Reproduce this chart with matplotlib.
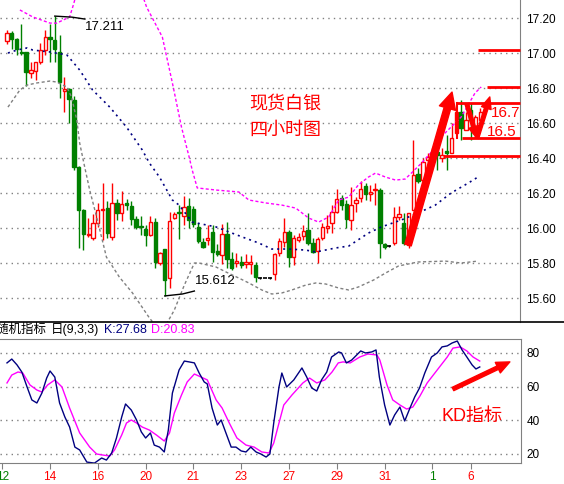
import matplotlib
matplotlib.use('Agg')
import matplotlib.pyplot as plt
from matplotlib.lines import Line2D

plt.rcParams['font.family'] = ['Liberation Sans', 'Noto Sans CJK SC', 'DejaVu Sans']

# 4-hour silver candles (open, high, low, close), bar index 0..99
opens = [17.069, 17.114, 17.080, 17.006, 17.006, 16.886, 16.897, 16.949, 17.017, 17.091,
         17.074, 17.006, 16.783, 16.794, 16.731, 16.349, 16.103, 15.960, 15.943, 16.029,
         16.103, 16.114, 15.949, 16.143, 16.086, 16.143, 16.126, 16.051, 16.011, 15.994,
         15.960, 16.034, 15.800, 15.880, 15.714, 16.057, 16.091, 16.069, 16.126, 16.109,
         16.006, 15.920, 15.931, 15.977, 15.869, 15.846, 15.966, 15.823, 15.800, 15.806,
         15.794, 15.794, 15.789, 15.714, 15.714, 15.714, 15.737, 15.857, 15.920, 15.977,
         15.834, 15.931, 15.954, 15.989, 15.914, 15.869, 15.943, 16.000, 16.029, 16.091,
         16.171, 16.137, 16.046, 16.143, 16.171, 16.240, 16.194, 16.217, 16.217, 15.909,
         15.897, 15.914, 16.063, 16.029, 15.903, 16.103, 16.309, 16.274, 16.389, 16.406,
         16.434, 16.400, 16.440, 16.429, 16.543, 16.663, 16.560, 16.674, 16.560, 16.617]
highs = [17.131, 17.126, 17.086, 17.166, 17.006, 16.949, 16.949, 17.057, 17.131, 17.166,
         17.211, 17.103, 16.863, 16.800, 16.754, 16.354, 16.109, 16.057, 16.080, 16.143,
         16.257, 16.154, 16.257, 16.166, 16.211, 16.166, 16.154, 16.069, 16.069, 16.017,
         16.069, 16.057, 15.863, 15.880, 16.091, 16.091, 16.131, 16.183, 16.171, 16.126,
         16.029, 15.943, 16.017, 16.017, 15.909, 16.023, 16.034, 15.863, 15.857, 15.840,
         15.851, 15.846, 15.806, 15.720, 15.714, 15.720, 15.857, 15.943, 16.057, 15.989,
         15.960, 15.971, 16.017, 16.086, 15.943, 15.949, 16.029, 16.074, 16.131, 16.223,
         16.189, 16.160, 16.234, 16.177, 16.269, 16.257, 16.246, 16.257, 16.229, 15.914,
         15.903, 16.120, 16.126, 16.086, 16.086, 16.503, 16.343, 16.400, 16.429, 16.457,
         16.486, 16.457, 16.531, 16.600, 16.691, 16.731, 16.663, 16.714, 16.646, 16.686]
lows = [17.051, 17.023, 16.989, 16.989, 16.811, 16.857, 16.846, 16.937, 16.989, 16.949,
        16.949, 16.743, 16.663, 16.600, 16.331, 15.886, 15.874, 15.949, 15.931, 16.006,
        15.931, 15.943, 15.931, 16.046, 16.040, 16.103, 16.017, 15.994, 15.960, 15.897,
        15.954, 15.771, 15.789, 15.612, 15.657, 16.051, 15.937, 16.017, 16.000, 16.006,
        15.914, 15.886, 15.903, 15.806, 15.840, 15.794, 15.771, 15.760, 15.777, 15.771,
        15.771, 15.737, 15.691, 15.709, 15.714, 15.709, 15.703, 15.840, 15.891, 15.777,
        15.789, 15.920, 15.931, 15.903, 15.857, 15.800, 15.931, 15.971, 15.971, 16.086,
        16.103, 16.000, 15.989, 16.091, 16.149, 16.160, 16.154, 16.131, 15.829, 15.880,
        15.891, 15.903, 16.046, 15.903, 15.886, 16.103, 16.257, 16.257, 16.331, 16.389,
        16.331, 16.377, 16.331, 16.429, 16.543, 16.503, 16.560, 16.503, 16.549, 16.606]
closes = [17.114, 17.080, 17.023, 17.000, 16.891, 16.903, 16.949, 17.017, 17.091, 17.080,
          17.023, 16.834, 16.794, 16.737, 16.349, 16.103, 15.966, 15.966, 16.029, 16.103,
          16.109, 15.971, 16.143, 16.086, 16.137, 16.131, 16.051, 16.006, 16.006, 15.960,
          16.034, 15.806, 15.857, 15.703, 16.040, 16.080, 16.086, 16.120, 16.046, 16.023,
          15.926, 15.891, 15.943, 15.863, 15.851, 15.966, 15.823, 15.771, 15.811, 15.789,
          15.806, 15.806, 15.720, 15.714, 15.714, 15.714, 15.851, 15.926, 15.977, 15.834,
          15.943, 15.949, 15.983, 15.914, 15.863, 15.937, 16.006, 16.011, 16.091, 16.166,
          16.131, 16.051, 16.131, 16.160, 16.223, 16.194, 16.206, 16.223, 15.914, 15.891,
          15.897, 16.063, 16.080, 15.914, 16.086, 16.303, 16.269, 16.377, 16.406, 16.423,
          16.417, 16.417, 16.429, 16.514, 16.663, 16.571, 16.617, 16.617, 16.634, 16.663]

# Bollinger bands (bar index, price)
boll_up_x = [2.7, 5.4, 9.0, 10.4, 13.1, 13.75, 15.2, 19.4, 23.5, 27.7, 29.2, 32.5, 34.6, 36.5,
             38.1, 38.75, 39.8, 43.75, 48.5, 50.6, 54.2, 57.5, 60.4, 63.1, 65.2, 67.3, 69.4,
             71.5, 73.5, 75.6, 77.1, 79.2, 81.3, 83.3, 84.6, 86.7, 88.8, 90.8, 92.9, 95.0,
             97.9, 99.2]
boll_up = [17.246, 17.206, 17.171, 17.171, 17.206, 17.263, 17.40, 17.50, 17.48, 17.38, 17.263,
           17.091, 16.829, 16.577, 16.406, 16.331, 16.229, 16.217, 16.206, 16.160, 16.143,
           16.131, 16.114, 16.057, 16.034, 16.063, 16.160, 16.177, 16.246, 16.291, 16.314,
           16.291, 16.274, 16.280, 16.314, 16.371, 16.434, 16.520, 16.577, 16.634, 16.771,
           16.806]
boll_mid_x = [0.2, 2.1, 4.2, 5.4, 9.0, 12.5, 13.1, 15.2, 17.9, 21.5, 25.0, 28.3, 29.8, 31.9,
              34.6, 36.0, 38.75, 43.75, 46.5, 49.2, 52.7, 55.4, 59.0, 62.5, 64.6, 68.75,
              71.5, 75.6, 78.3, 82.5, 86.0, 89.6, 92.9, 96.5, 98.5]
boll_mid = [17.000, 17.017, 17.029, 17.017, 17.006, 16.989, 16.971, 16.903, 16.789, 16.691,
            16.577, 16.446, 16.371, 16.291, 16.160, 16.131, 16.034, 16.006, 15.977, 15.949,
            15.914, 15.880, 15.880, 15.874, 15.863, 15.886, 15.897, 15.971, 16.006, 16.046,
            16.086, 16.131, 16.200, 16.257, 16.291]
boll_low_x = [0.2, 2.7, 4.2, 6.25, 9.0, 10.4, 12.5, 13.5, 14.6, 15.2, 16.25, 17.3, 18.75, 20.8,
              23.5, 26.25, 29.8, 32.3, 35.0, 37.1, 39.2, 40.2, 43.75, 45.8, 48.5, 50.6, 53.3,
              55.4, 57.5, 59.6, 62.5, 64.6, 66.7, 69.4, 71.5, 73.5, 76.7, 79.2, 81.9, 86.0,
              91.7, 95.0, 98.5]
boll_low = [16.691, 16.789, 16.817, 16.829, 16.840, 16.834, 16.806, 16.749, 16.617, 16.486,
            16.349, 16.217, 16.063, 15.834, 15.720, 15.629, 15.486, 15.400, 15.531, 15.674,
            15.800, 15.800, 15.777, 15.749, 15.714, 15.686, 15.646, 15.623, 15.629, 15.646,
            15.674, 15.686, 15.680, 15.657, 15.646, 15.663, 15.703, 15.743, 15.783, 15.806,
            15.811, 15.800, 15.811]

# KD(9,3,3)
k_x = [0.0, 1.0, 2.1, 3.1, 4.2, 5.2, 6.25, 7.3, 8.3, 9.0, 10.0, 11.0, 12.1, 13.1, 14.2, 15.2,
       16.7, 18.3, 19.8, 20.8, 21.9, 22.9, 24.0, 24.8, 26.0, 27.1, 28.1, 29.0, 30.0, 30.8,
       31.9, 32.9, 33.75, 34.6, 36.0, 37.1, 38.1, 39.2, 40.2, 41.25, 41.9, 42.9, 44.0, 44.8,
       45.8, 46.9, 47.9, 49.0, 50.0, 51.0, 52.1, 53.1, 54.2, 55.0, 55.8, 56.9, 57.5, 58.5,
       60.0, 61.7, 62.7, 63.75, 64.8, 65.8, 66.9, 67.9, 69.4, 70.0, 71.0, 72.1, 74.0, 75.0,
       76.3, 77.2, 77.9, 79.0, 80.1, 81.1, 82.2, 83.2, 84.3, 85.3, 86.3, 87.4, 88.8, 90.0,
       91.0, 92.1, 93.1, 94.2, 95.2, 96.2, 97.3, 98.1, 98.9]
k_vals = [74.1, 76.4, 72.9, 68.7, 59.8, 52.1, 50.3, 56.2, 65.1, 69.3, 65.7, 50.3, 42.0, 36.0,
          24.1, 22.4, 15.2, 14.6, 17.6, 16.4, 20.6, 29.5, 42.0, 49.7, 46.1, 40.2, 33.1, 29.5,
          32.5, 25.3, 24.1, 21.2, 34.2, 56.2, 69.9, 75.2, 74.7, 74.1, 68.1, 62.8, 61.6, 47.3,
          37.2, 40.2, 32.5, 24.1, 24.1, 21.8, 21.2, 24.1, 21.2, 20.0, 18.2, 20.0, 38.4, 59.8,
          68.1, 59.8, 64.0, 71.1, 65.7, 59.2, 57.4, 64.0, 68.7, 77.6, 80.6, 80.0, 74.1, 75.8,
          81.2, 80.0, 80.6, 81.8, 65.7, 49.1, 37.2, 43.2, 47.9, 39.6, 47.3, 53.9, 59.2, 68.1,
          77.6, 80.0, 83.6, 84.2, 85.9, 87.1, 81.8, 77.6, 72.9, 70.5, 71.7]
d_x = [0.0, 1.0, 2.3, 3.3, 4.8, 6.25, 7.3, 8.5, 10.0, 11.5, 13.1, 15.2, 17.3, 18.75, 20.0,
       21.5, 22.5, 24.0, 25.0, 26.0, 27.1, 28.3, 29.8, 31.25, 32.9, 34.0, 35.0, 36.5, 37.7,
       39.2, 40.6, 41.9, 43.75, 45.0, 46.5, 48.1, 50.0, 51.7, 53.3, 54.8, 55.8, 56.9, 57.9,
       59.6, 61.9, 63.3, 64.8, 66.5, 68.0, 69.3, 70.3, 71.8, 73.8, 75.5, 77.4, 78.0, 79.5,
       80.7, 82.2, 83.6, 84.9, 86.4, 87.9, 90.0, 92.1, 93.3, 94.8, 96.2, 97.5, 98.9]
d_vals = [62.2, 66.9, 68.7, 68.1, 61.0, 58.0, 56.8, 61.0, 64.0, 59.8, 47.3, 32.5, 24.1, 20.0,
          19.4, 18.8, 22.4, 31.3, 38.4, 40.2, 38.4, 36.0, 34.2, 31.3, 27.7, 32.5, 44.3, 55.0,
          62.8, 67.5, 65.7, 64.0, 52.1, 47.3, 38.4, 29.5, 25.3, 24.1, 21.2, 20.6, 26.5, 38.4,
          49.1, 55.0, 62.2, 65.1, 62.2, 64.0, 68.7, 74.1, 74.7, 74.1, 77.6, 79.4, 78.8, 75.8,
          61.0, 52.1, 49.1, 46.7, 47.9, 54.5, 62.2, 69.9, 77.6, 82.9, 83.6, 81.2, 77.6, 75.2]

date_pos = [-1, 9, 19, 29, 39, 49, 59, 69, 79, 89, 97]
date_labels = ['12', '14', '16', '20', '21', '23', '27', '29', '31', '1', '6']
date_colors = ['green', 'red', 'red', 'red', 'red', 'red', 'red', 'red', 'red', 'green', 'red']

RED = '#ff0000'
GREEN = '#008000'
NAVY = '#000080'
MAG = '#ff00ff'
GRAY = '#808080'

W, H = 564, 484
fig = plt.figure(figsize=(W / 100, H / 100), dpi=100)
fig.patch.set_facecolor('white')

ax = fig.add_axes([0, 1 - 322 / H, 520 / W, 322 / H])
ax2 = fig.add_axes([0, 1 - 463 / H, 521 / W, (463 - 339) / H])

# ---- price panel ----
for i in range(len(opens)):
    o, hi, lo, c = opens[i], highs[i], lows[i], closes[i]
    if c > o:
        col = RED
    elif c < o:
        col = GREEN
    else:
        col = 'black'
    ax.vlines(i, lo, hi, color=col, lw=1, zorder=2)
    if c == o:
        ax.hlines(c, i - 0.4, i + 0.4, color=col, lw=1.2, zorder=3)
    else:
        ax.bar(i, abs(c - o), bottom=min(o, c), width=0.7,
               facecolor='white' if c > o else GREEN, edgecolor=col, lw=1, zorder=3)

ax.plot(boll_up_x, boll_up, color=MAG, lw=1, ls=(0, (2.2, 1.6)), zorder=4)
ax.plot(boll_mid_x, boll_mid, color=NAVY, lw=1.2, ls=(0, (1.2, 2.4)), zorder=4)
ax.plot(boll_low_x, boll_low, color=GRAY, lw=1, ls=(0, (2.2, 1.8)), zorder=4)

ax.set_xlim(-1.464, 107.32)
ax.set_ylim(15.463, 17.303)
ax.set_yticks([15.6, 15.8, 16.0, 16.2, 16.4, 16.6, 16.8, 17.0, 17.2])
ax.set_yticklabels(['%.2f' % v for v in ax.get_yticks()])
ax.yaxis.tick_right()
ax.tick_params(axis='y', length=0, pad=4, labelsize=8.5)
ax.set_xticks([])
ax.grid(axis='y', color=GRAY, ls=(0, (1, 3)), lw=1)
for s in ['left', 'top', 'bottom']:
    ax.spines[s].set_visible(False)
ax.spines['right'].set_color(GRAY)

# high / low markers
ax.plot([10, 13.6, 16.3], [17.211, 17.205, 17.194], color='black', lw=1, zorder=5)
ax.text(16.4, 17.149, '17.211', fontsize=9.5, va='center', ha='left')
ax.plot([33, 36.7, 39.2], [15.612, 15.623, 15.640], color='black', lw=1, zorder=5)
ax.text(39.3, 15.697, '15.612', fontsize=9.5, va='center', ha='left')

# hand drawn levels
lvl_kw = dict(color=RED, lw=2, zorder=6, clip_on=False, solid_capstyle='butt')
ax.plot([98.5, 107.3], [17.017, 17.017], **lvl_kw)
ax.plot([100.4, 107.3], [16.806, 16.806], **lvl_kw)
ax.plot([94.1, 107.3], [16.714, 16.714], **lvl_kw)
ax.plot([95.2, 107.3], [16.514, 16.514], **lvl_kw)
ax.plot([91.2, 107.3], [16.411, 16.411], **lvl_kw)
ax.plot([94.1, 94.1], [16.514, 16.714], color=RED, lw=1.5, zorder=6)

ax.annotate('', xy=(93.1, 16.777), xytext=(83.9, 15.903),
            arrowprops=dict(arrowstyle='simple,head_length=0.8,head_width=0.8,tail_width=0.32',
                            color=RED, mutation_scale=15, shrinkA=0, shrinkB=0), zorder=7)
ax.annotate('', xy=(98.3, 16.514), xytext=(96.2, 16.709),
            arrowprops=dict(arrowstyle='simple,head_length=0.7,head_width=0.6,tail_width=0.22',
                            color=RED, mutation_scale=12, shrinkA=0, shrinkB=0), zorder=7)
ax.annotate('', xy=(101.0, 16.749), xytext=(98.3, 16.514),
            arrowprops=dict(arrowstyle='simple,head_length=0.7,head_width=0.6,tail_width=0.22',
                            color=RED, mutation_scale=12, shrinkA=0, shrinkB=0), zorder=7)

ax.text(101.3, 16.657, '16.7', color=RED, fontsize=11, va='center', ha='left', clip_on=False)
ax.text(100.4, 16.549, '16.5', color=RED, fontsize=11, va='center', ha='left', clip_on=False)
ax.text(58.2, 16.703, '现货白银', color=RED, fontsize=13, va='center', ha='center')
ax.text(58.2, 16.560, '四小时图', color=RED, fontsize=13, va='center', ha='center')

# ---- KD panel ----
ax2.plot(d_x, d_vals, color=MAG, lw=1)
ax2.plot(k_x, k_vals, color=NAVY, lw=1)
ax2.set_xlim(-1.464, 107.53)
ax2.set_ylim(14.65, 88.3)
ax2.set_yticks([20, 40, 60, 80])
ax2.yaxis.tick_right()
ax2.tick_params(axis='y', length=0, pad=4, labelsize=8.5)
ax2.set_xticks(date_pos)
ax2.set_xticklabels(date_labels)
for lbl, c in zip(ax2.get_xticklabels(), date_colors):
    lbl.set_color(c)
ax2.tick_params(axis='x', length=4, color=GRAY, labelsize=8.5, pad=2)
ax2.grid(axis='y', color=GRAY, ls=(0, (1, 3)), lw=1)
ax2.spines['left'].set_visible(False)
for s in ['top', 'right', 'bottom']:
    ax2.spines[s].set_color(GRAY)

ax2.annotate('', xy=(105.2, 74.7), xytext=(93.3, 58.6),
             arrowprops=dict(arrowstyle='simple,head_length=0.8,head_width=0.7,tail_width=0.22',
                             color=RED, mutation_scale=12, shrinkA=0, shrinkB=0))
ax2.text(97.3, 42.0, 'KD指标', color=RED, fontsize=13, va='center', ha='center')

# panel separator and KD caption
fig.add_artist(Line2D([0, 1], [1 - 322 / H, 1 - 322 / H], color='black', lw=1.2))
ty = 1 - 330 / H
fig.text(-4 / W, ty, '随机指标', fontsize=9, va='center', ha='left')
fig.text(51 / W, ty, '日(9,3,3)', fontsize=9, va='center', ha='left')
fig.text(104 / W, ty, 'K:27.68', fontsize=9, va='center', ha='left', color=NAVY)
fig.text(151 / W, ty, 'D:20.83', fontsize=9, va='center', ha='left', color=MAG)

fig.savefig('out.png', dpi=100, facecolor='white')
